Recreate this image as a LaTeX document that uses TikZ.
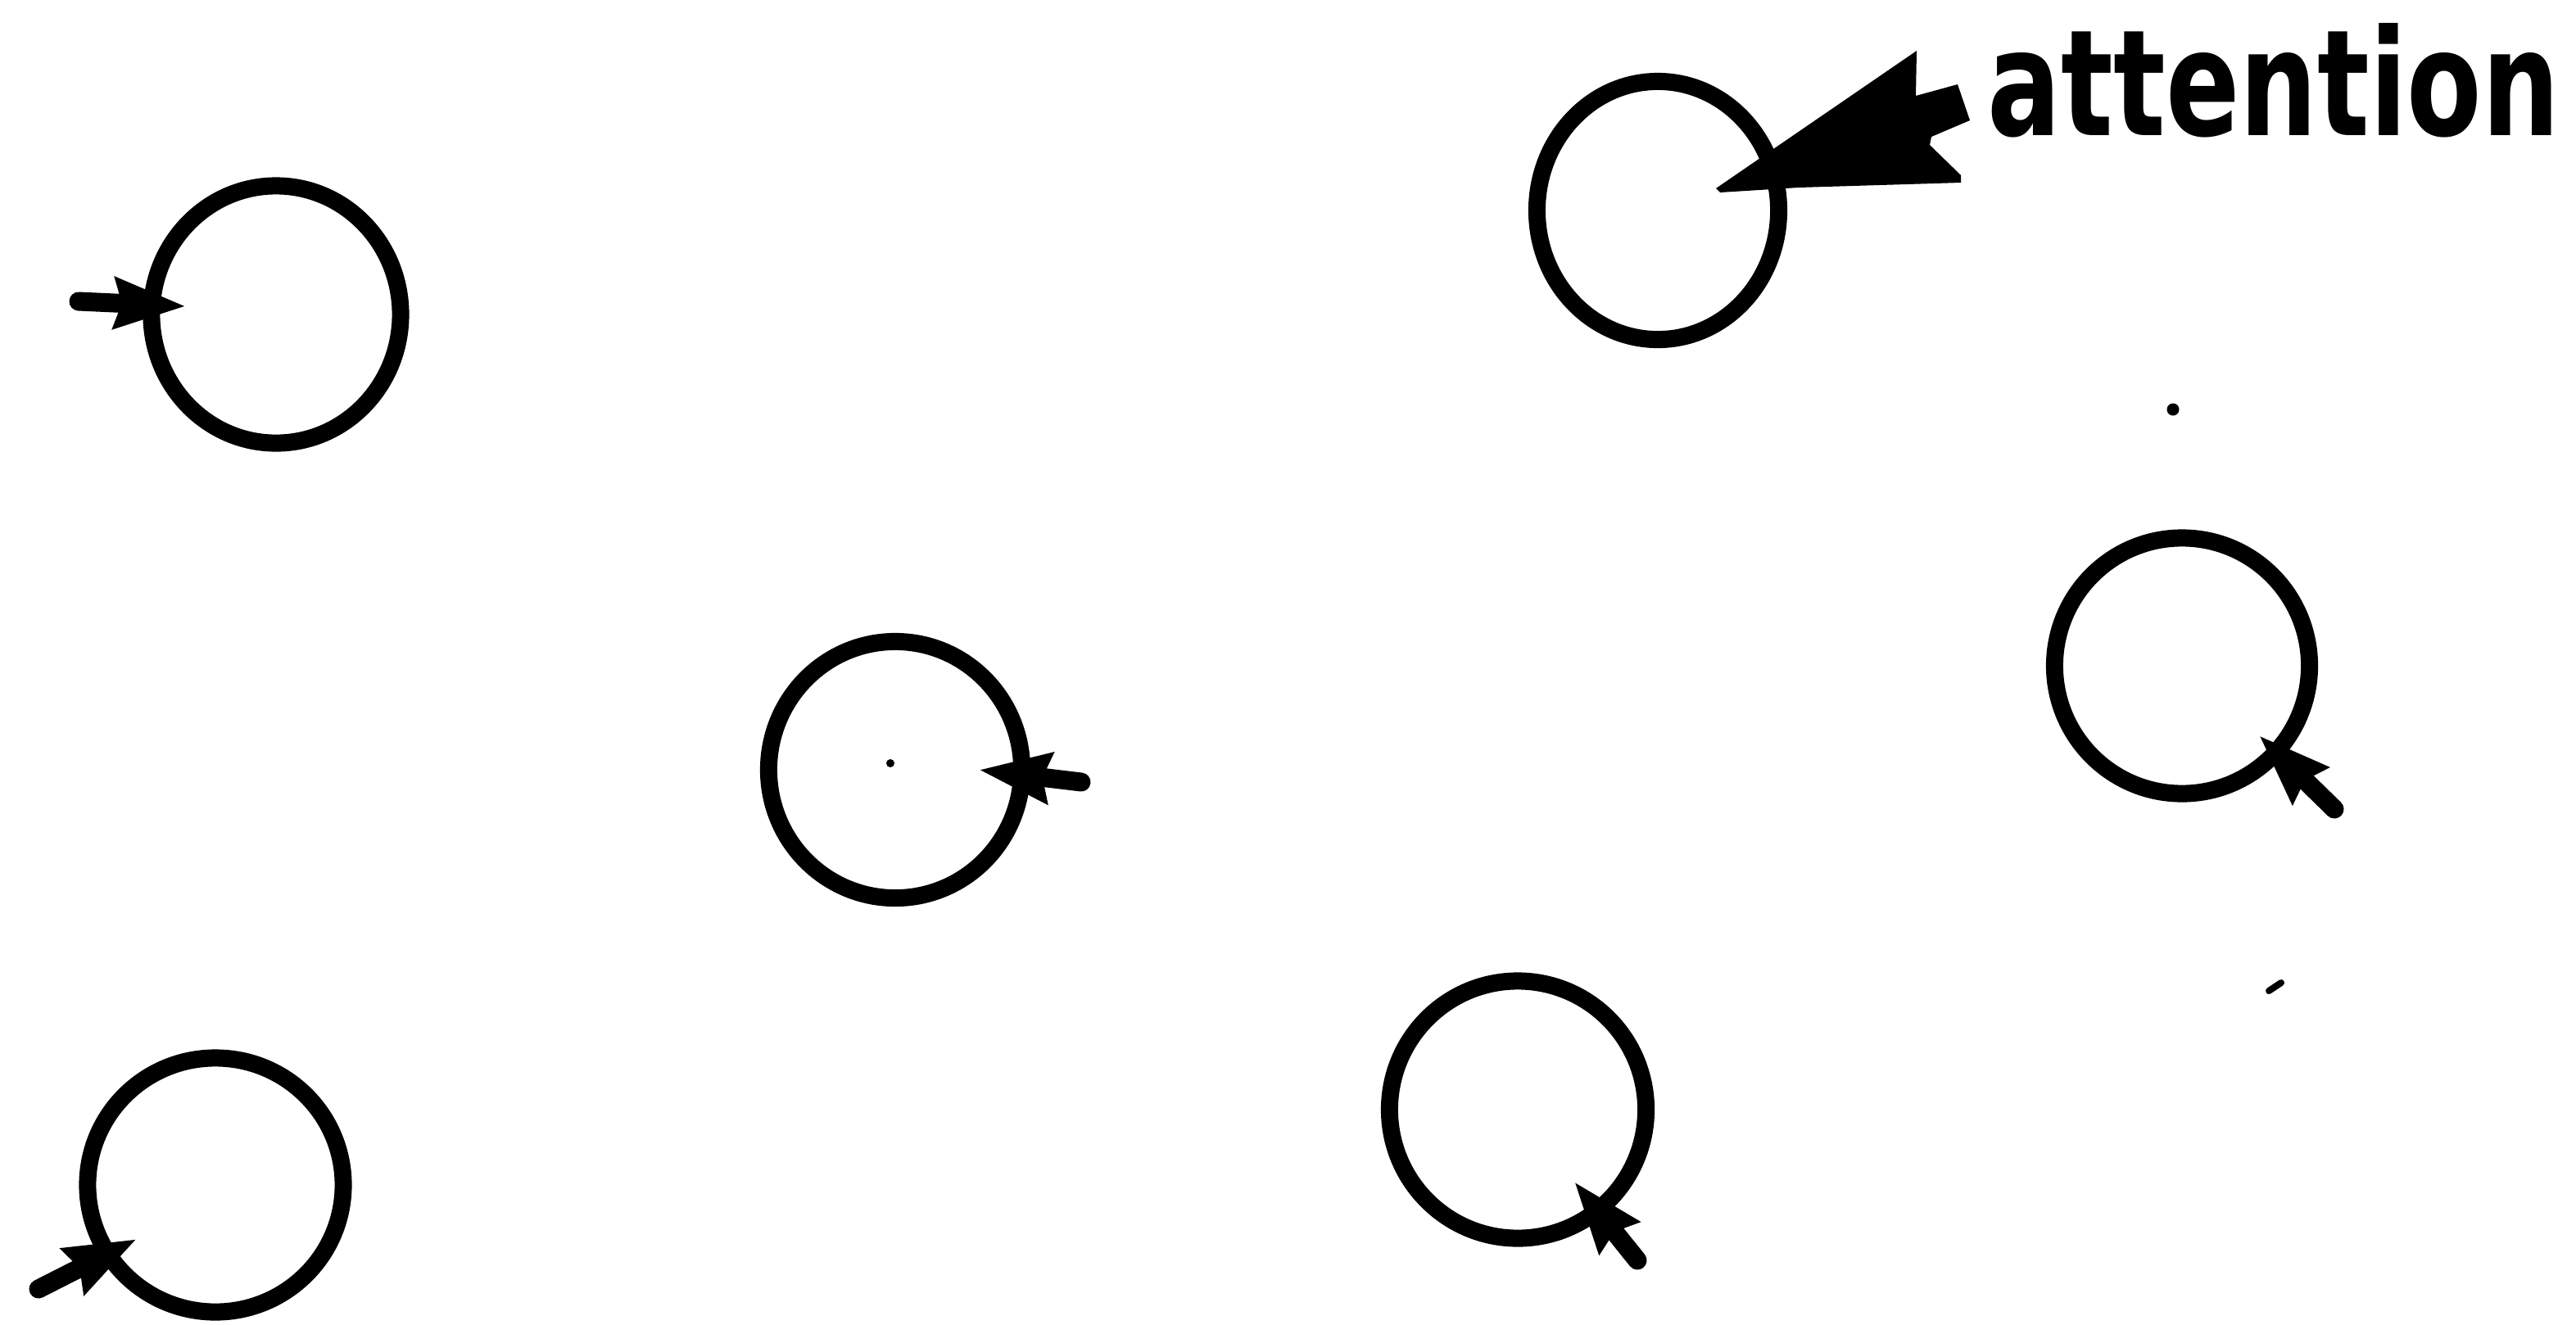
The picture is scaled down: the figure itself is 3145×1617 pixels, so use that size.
\documentclass[tikz,border=0pt]{standalone}
\usepackage{fontspec}
\setmainfont{DejaVu Sans}
\usetikzlibrary{arrows.meta,shapes.geometric}
\begin{document}
\begin{tikzpicture}[x=0.01cm,y=-0.01cm,
  ring/.style={draw, ellipse, line width=0.21cm, inner sep=0pt},
  pointer/.style={line width=0.23cm, line cap=round,
    -{Stealth[length=0.86cm,width=0.6cm,inset=0.08cm]}},
  speck/.style={fill, circle, inner sep=0pt},
  label/.style={anchor=base west, inner sep=0pt}]
\useasboundingbox (0,0) rectangle (3145,1617);

% circles
\node[ring, minimum width=3.04cm, minimum height=3.14cm] (c1) at (337,384) {};
\node[ring, minimum width=3.09cm, minimum height=3.13cm] (c2) at (1093,940) {};
\node[ring, minimum width=3.11cm, minimum height=3.12cm] (c3) at (2664,813) {};
\node[ring, minimum width=3.12cm, minimum height=3.10cm] (c4) at (263,1447) {};
\node[ring, minimum width=3.13cm, minimum height=3.14cm] (c5) at (1853,1355) {};
\node[ring, minimum width=2.95cm, minimum height=3.15cm] (c6) at (2024,257) {};

% small pointers
\coordinate (t1) at (96,368);   \coordinate (p1) at (227,374);
\coordinate (t2) at (1320,955); \coordinate (p2) at (1195,940);
\coordinate (t3) at (2850,988); \coordinate (p3) at (2758,898);
\coordinate (t4) at (47,1574);  \coordinate (p4) at (167,1513);
\coordinate (t5) at (1999,1539);\coordinate (p5) at (1922,1443);
\draw[pointer] (t1) -- (p1);
\draw[pointer] (t2) -- (p2);
\draw[pointer] (t3) -- (p3);
\draw[pointer] (t4) -- (p4);
\draw[pointer] (t5) -- (p5);

% attention label and its large arrow
\node[label] (att) at (2426,165) {\resizebox{6.98cm}{1.37cm}{\bfseries attention}};
\coordinate (atip) at (2095,230);
\fill (atip) -- (2340,62) -- (2339,117) -- (2390,103) -- (2405,147)
  -- (2358,167) -- (2356,177) -- (2394,214) -- (2394,223)
  -- (2196,229) -- (2100,235) -- cycle;

% specks
\node[speck, minimum size=0.1cm] (s0) at (1087,932) {};
\node[speck, minimum size=0.15cm] (s1) at (2653,500) {};
\draw[line width=0.08cm, line cap=round] (2770,1210) -- (2785,1200);
\end{tikzpicture}
\end{document}
